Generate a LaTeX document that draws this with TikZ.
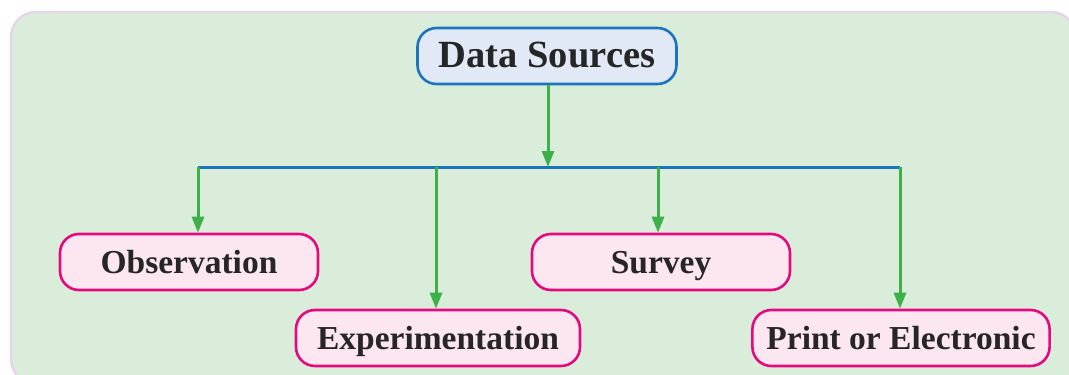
\documentclass[tikz,border=0pt]{standalone}
\usepackage{fontspec}
\setmainfont{Liberation Serif}
\usetikzlibrary{arrows.meta}

\definecolor{panelgreen}{HTML}{DAEDDA}
\definecolor{panelrim}{HTML}{E8D4E8}
\definecolor{headblue}{HTML}{1C75BC}
\definecolor{headfill}{HTML}{E1E9F6}
\definecolor{leafpink}{HTML}{E5097F}
\definecolor{leaffill}{HTML}{FCE6F0}
\definecolor{linkgreen}{HTML}{3DB04A}

\tikzset{
  headbox/.style={draw=headblue, fill=headfill, line width=2.6pt, rounded corners=19pt,
    minimum width=259pt, minimum height=56pt, text=black!85,
    text height=25pt, text depth=3pt,
    font=\fontsize{38.5}{44}\selectfont\bfseries},
  leafbox/.style={draw=leafpink, fill=leaffill, line width=2.6pt, rounded corners=19pt,
    minimum width=258pt, minimum height=56pt, inner xsep=14pt, text=black!85,
    text height=24pt, text depth=2pt,
    font=\fontsize{33.5}{40}\selectfont\bfseries},
  link/.style={draw=linkgreen, line width=3pt, -{Triangle[length=16pt,width=12pt]}},
  bar/.style={draw=headblue, line width=3pt},
}

\begin{document}
\begin{tikzpicture}[x=1pt,y=-1pt]
    \clip (0,0) rectangle (1069,375);

    % Panel
    \draw[panelrim, fill=panelgreen, line width=2.4pt, rounded corners=25pt]
        (11,12) rectangle (1076,384);

    % Boxes
    \node[headbox] (src) at (547,56) {Data Sources};
    \node[leafbox] (obs) at (189,262) {Observation};
    \node[leafbox] (srv) at (661,262) {Survey};
    \node[leafbox, minimum width=284pt] (exp) at (438,338) {Experimentation};
    \node[leafbox] (prt) at (901,338) {Print or Electronic};

    % Define points on the bar
    \coordinate (mid) at (548,167);
    \coordinate (j1) at (198,167);
    \coordinate (j2) at (436,167);
    \coordinate (j3) at (658,167);
    \coordinate (j4) at (900,167);

    % Bar and arrows
    \draw[bar] (j1) -- (j4);
    \draw[link] (src.south -| mid) -- (mid);
    \foreach \j/\leaf in {j1/obs, j2/exp, j3/srv, j4/prt}
        \draw[link] (\j) -- (\j |- \leaf.north);

\end{tikzpicture}
\end{document}
